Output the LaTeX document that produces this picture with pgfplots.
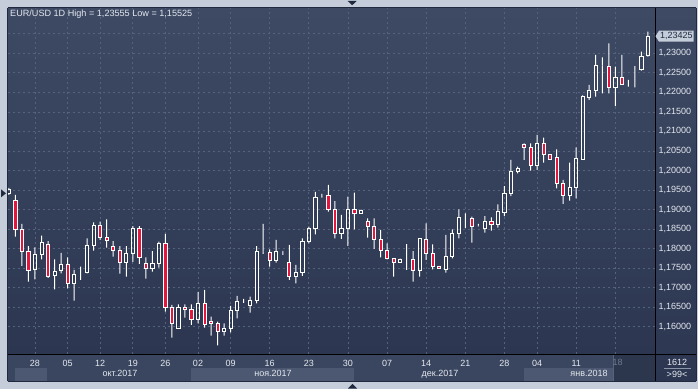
\documentclass[border=0pt]{standalone}
\usepackage{pgfplots}
\pgfplotsset{compat=1.18}
\usepackage{pgfplotstable}
\usepackage{fontspec}
\setmainfont{Liberation Sans}
\definecolor{framec}{HTML}{C4CDD9}
\definecolor{bgtop}{HTML}{3E4A64}
\definecolor{bgbot}{HTML}{2C3651}
\definecolor{strip}{HTML}{3A465F}
\definecolor{band}{HTML}{4C5871}
\definecolor{gridc}{HTML}{56627B}
\definecolor{candlered}{HTML}{E3163E}
\definecolor{txt}{HTML}{E4E9F0}
\definecolor{navy}{HTML}{1F2A3E}
\definecolor{ovc}{HTML}{2C364D}
\definecolor{faint}{HTML}{6E7A90}
\definecolor{sepline}{HTML}{8A96A8}

\pgfplotstableread{
i o h l c
0 1.19415 1.19551 1.19372 1.19517
1 1.19226 1.19372 1.18304 1.18494
2 1.18494 1.18630 1.17554 1.17938
3 1.17938 1.18066 1.17152 1.17452
4 1.17470 1.18033 1.17214 1.17854
5 1.17854 1.18330 1.17726 1.18161
6 1.18117 1.18194 1.17247 1.17298
7 1.17316 1.17726 1.16958 1.17426
8 1.17452 1.17887 1.17367 1.17598
9 1.17598 1.17777 1.16983 1.17111
10 1.17111 1.17452 1.16666 1.17342
11 1.17401 1.17537 1.17196 1.17401
12 1.17393 1.18264 1.17367 1.18074
13 1.18074 1.18673 1.17946 1.18586
14 1.18586 1.18688 1.18220 1.18279
15 1.18289 1.18750 1.18023 1.18212
16 1.18048 1.18194 1.17793 1.17956
17 1.17956 1.18066 1.17357 1.17649
18 1.17649 1.18066 1.17281 1.17880
19 1.17880 1.18578 1.17657 1.18520
20 1.18520 1.18578 1.17606 1.17777
21 1.17624 1.17777 1.17229 1.17496
22 1.17496 1.17938 1.17408 1.17624
23 1.17624 1.18177 1.17511 1.18136
24 1.18136 1.18374 1.16385 1.16497
25 1.16497 1.16556 1.15719 1.16088
26 1.15960 1.16574 1.15942 1.16497
27 1.16497 1.16574 1.16231 1.16446
28 1.16446 1.16574 1.16044 1.16190
29 1.16190 1.16889 1.16088 1.16600
30 1.16600 1.16940 1.15975 1.16062
31 1.16146 1.16257 1.15770 1.16088
32 1.16088 1.16128 1.15525 1.15883
33 1.15883 1.16088 1.15770 1.15960
34 1.15960 1.16530 1.15857 1.16420
35 1.16420 1.16786 1.16215 1.16641
36 1.16658 1.16710 1.16607 1.16658
37 1.16538 1.16768 1.16359 1.16666
38 1.16666 1.18066 1.16600 1.17938
39 1.17920 1.18630 1.17862 1.17920
40 1.17895 1.17982 1.17537 1.17690
41 1.17690 1.18220 1.17639 1.17938
42 1.17920 1.17938 1.17836 1.17920
43 1.17649 1.18092 1.17196 1.17281
44 1.17281 1.17580 1.17111 1.17393
45 1.17393 1.18264 1.17298 1.18194
46 1.18194 1.18561 1.18136 1.18520
47 1.18520 1.19449 1.18366 1.19313
48 1.19346 1.19398 1.19303 1.19346
49 1.19364 1.19628 1.18945 1.19006
50 1.19006 1.19218 1.18264 1.18392
51 1.18392 1.18860 1.18246 1.18520
52 1.18520 1.19328 1.18066 1.19006
53 1.19006 1.19431 1.18494 1.18904
54 1.18904 1.18996 1.18886 1.18980
55 1.18688 1.18775 1.18279 1.18578
56 1.18578 1.18775 1.17990 1.18238
57 1.18238 1.18476 1.17777 1.17956
58 1.17956 1.18136 1.17726 1.17752
59 1.17741 1.17741 1.17281 1.17649
60 1.17649 1.17741 1.17639 1.17726
61 1.17708 1.18117 1.17452 1.17708
62 1.17726 1.17938 1.17152 1.17452
63 1.17452 1.18264 1.17281 1.18264
64 1.18238 1.18648 1.17708 1.17880
65 1.17880 1.18110 1.17470 1.17537
66 1.17554 1.17554 1.17496 1.17496
67 1.17470 1.18348 1.17383 1.17793
68 1.17793 1.18494 1.17752 1.18392
69 1.18392 1.19006 1.18264 1.18796
70 1.18783 1.18904 1.18527 1.18783
71 1.18775 1.18816 1.18151 1.18578
72 1.18596 1.18630 1.18566 1.18596
73 1.18520 1.18834 1.18407 1.18688
74 1.18688 1.18801 1.18458 1.18622
75 1.18622 1.19134 1.18535 1.18962
76 1.18929 1.19602 1.18834 1.19416
77 1.19416 1.20268 1.19346 1.19986
78 1.19968 1.20097 1.19928 1.20056
79 1.20670 1.20696 1.20268 1.20593
80 1.20593 1.20696 1.19994 1.20132
81 1.20132 1.20908 1.20012 1.20696
82 1.20696 1.20839 1.20199 1.20414
83 1.20414 1.20414 1.20286 1.20286
84 1.20337 1.20542 1.19544 1.19672
85 1.19672 1.19756 1.19142 1.19354
86 1.19354 1.20199 1.19226 1.19569
87 1.19569 1.20593 1.19288 1.20312
88 1.20286 1.21920 1.20268 1.21889
89 1.21873 1.22188 1.21804 1.22042
90 1.22042 1.22956 1.21889 1.22700
91 1.22682 1.22897 1.21976 1.22682
92 1.22657 1.23256 1.21976 1.22129
93 1.22129 1.22657 1.21650 1.22375
94 1.22375 1.22956 1.22188 1.22206
95 1.22188 1.22316 1.22145 1.22188
96 1.22598 1.22674 1.22129 1.22598
97 1.22590 1.23041 1.22554 1.22930
98 1.22956 1.23555 1.22913 1.23425
}\eurusd

\begin{document}
\begin{tikzpicture}[x=1pt,y=1pt]
% outer frame
\fill[framec] (0,0) rectangle (698,389);
% plot area and right panel
\shade[top color=bgtop, bottom color=bgbot] (8,35) rectangle (655,381);
\shade[top color=bgtop, bottom color=bgbot] (655,8) rectangle (696,381);
% bottom strip with month bands
\fill[strip] (8,8) rectangle (655,35);
\fill[band] (15,8.5) rectangle (46.7,21.3);
\fill[band] (190.7,8.5) rectangle (354,21.3);
\fill[band] (524,8.5) rectangle (613,21.3);
% scroll overlay on the last date
\fill[ovc] (613,8.5) rectangle (654.5,34.5);
\draw[gridc, line width=0.6pt] (613,8.5) -- (613,34.5);

\begin{axis}[
  at={(8pt,35pt)}, anchor=south west,
  width=647pt, height=346pt, scale only axis,
  xmin=-0.14, xmax=99.09, ymin=1.15301, ymax=1.24159,
  axis line style={draw=none},
  ybar stacked,
  major tick length=0pt,
  xtick={4,9,14,19,24,29,34,40,46,52,58,64,70,76,81,87,93},
  xticklabels={28,05,12,19,26,02,09,16,23,30,07,14,21,28,04,11,{}},
  ytick={1.16,1.165,1.17,1.175,1.18,1.185,1.19,1.195,1.2,1.205,1.21,1.215,1.22,1.225,1.23},
  extra y ticks={1.235}, extra y tick labels={},
  extra y tick style={grid=major},
  yticklabel pos=right,
  scaled y ticks=false,
  yticklabel style={anchor=west, text=txt, font=\fontsize{9}{10}\selectfont,
    /pgf/number format/.cd, fixed, fixed zerofill, precision=5, use comma, assume math mode=true},
  xticklabel style={text=txt, font=\fontsize{9}{10}\selectfont, yshift=-2.5pt,
    /pgf/number format/assume math mode=true},
  grid=major,
  grid style={gridc, dash pattern=on 2pt off 3pt, line width=0.7pt},
]
\addplot[draw=none, fill=none, bar width=1pt] table[x=i, y=l] {\eurusd};
\addplot[draw=none, fill=white, bar width=1pt] table[x=i, y expr={min(\thisrow{o},\thisrow{c})-\thisrow{l}}] {\eurusd};
\addplot[draw=white, fill=none, line width=0.8pt, bar width=3.2pt] table[x=i, y expr={max(\thisrow{c}-\thisrow{o},0)}] {\eurusd};
\addplot[draw=white, fill=candlered, line width=0.8pt, bar width=3.2pt] table[x=i, y expr={max(\thisrow{o}-\thisrow{c},0)}] {\eurusd};
\addplot[draw=none, fill=white, bar width=1pt] table[x=i, y expr={\thisrow{h}-max(\thisrow{o},\thisrow{c})}] {\eurusd};
\end{axis}

\node[text=faint, font=\fontsize{9}{10}\selectfont, inner sep=0pt] at (617.5,26.3) {18};
% frame lines
\draw[black, line width=1pt] (8,35) -- (696,35);
\draw[black, line width=1pt] (655,8) -- (655,381);
\draw[navy, line width=1pt] (7.5,8) -- (7.5,381);
\draw[navy, line width=0.6pt] (7.5,381.3) -- (696,381.3);
\draw[navy, line width=0.6pt] (7.5,8) -- (696,8);
\draw[navy, line width=0.6pt] (696,8) -- (696,381.3);

% title
\node[anchor=west, text=txt, font=\fontsize{9.1}{10}\selectfont, inner sep=0pt] at (10,374.5) {EUR/USD 1D High = 1,23555 Low = 1,15525};
% months
\node[text=txt, font=\fontsize{9}{10}\selectfont, inner sep=0pt] at (120,15.2) {окт.2017};
\node[text=txt, font=\fontsize{9}{10}\selectfont, inner sep=0pt] at (273,15.2) {ноя.2017};
\node[text=txt, font=\fontsize{9}{10}\selectfont, inner sep=0pt] at (440,15.2) {дек.2017};
\node[text=txt, font=\fontsize{9}{10}\selectfont, inner sep=0pt] at (589,15.2) {янв.2018};
% right bottom box
\node[text=txt, font=\fontsize{9}{10}\selectfont, inner sep=0pt] at (677,27) {1612};
\draw[sepline, line width=0.6pt] (664,20.8) -- (691,20.8);
\node[text=txt, font=\fontsize{9}{10}\selectfont, inner sep=0pt] at (677,14.3) {>99<};
% last price box
\fill[framec] (655.5,352.8) -- (659,358.3) -- (693.5,358.3) -- (693.5,347.3) -- (659,347.3) -- cycle;
\node[text=navy, font=\fontsize{9}{10}\selectfont, inner sep=0pt, anchor=west] at (660,352.8) {1,23425};
% triangles
\fill[navy] (347.7,388) -- (356.7,388) -- (352.2,383.8) -- cycle;
\fill[navy] (348,0.5) -- (357,0.5) -- (352.5,5.2) -- cycle;
\fill[navy] (1,199.7) -- (1,191.7) -- (6,195.7) -- cycle;

\pgfresetboundingbox
\path (0,0) rectangle (698,389);
\end{tikzpicture}
\end{document}
